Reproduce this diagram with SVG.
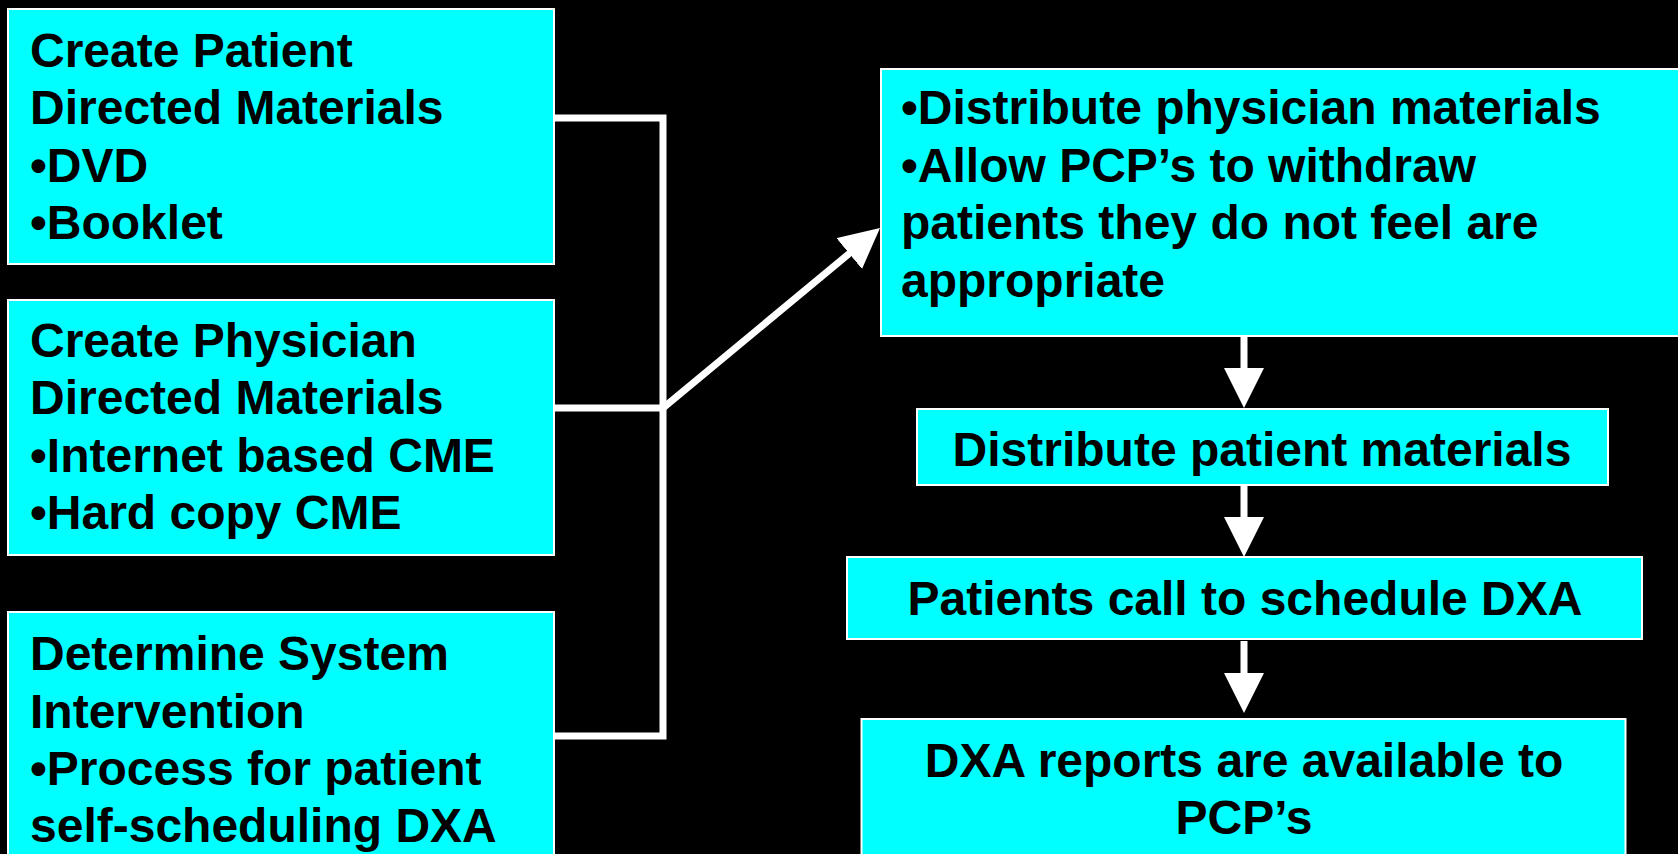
<svg xmlns="http://www.w3.org/2000/svg" width="1678" height="854" viewBox="0 0 1678 854">
  <style>
    .box { fill: #00ffff; stroke: #ffffff; stroke-width: 2; }
    .t { font-family: "Liberation Sans", Arial, sans-serif; font-weight: bold; font-size: 48px; fill: #000000; }
    .c { text-anchor: middle; }
    .ln { fill: none; stroke: #ffffff; stroke-width: 7; stroke-linejoin: miter; }
  </style>
  <defs>
    <marker id="head" markerUnits="userSpaceOnUse" markerWidth="40" markerHeight="40" viewBox="0 0 40 40" refX="10" refY="20" orient="auto">
      <path d="M0,0 L40,20 L0,40 Z" fill="#ffffff"/>
    </marker>
  </defs>
  <rect x="0" y="0" width="1678" height="854" fill="#000000"/>

  <g id="connectors">
    <path class="ln" d="M554,118 H663 V736 H554"/>
    <path class="ln" d="M554,408 H663"/>
    <line class="ln" x1="663" y1="408" x2="856.9" y2="247.2" marker-end="url(#head)"/>
    <line class="ln" x1="1244" y1="336" x2="1244" y2="378" marker-end="url(#head)"/>
    <line class="ln" x1="1244" y1="485" x2="1244" y2="527" marker-end="url(#head)"/>
    <line class="ln" x1="1244" y1="641" x2="1244" y2="683" marker-end="url(#head)"/>
  </g>

  <g id="patient-materials">
    <rect class="box" x="8" y="9" width="546" height="255"/>
    <text class="t" x="30" y="66.5">Create Patient</text>
    <text class="t" x="30" y="124">Directed Materials</text>
    <text class="t" x="30" y="181.5">•DVD</text>
    <text class="t" x="30" y="239">•Booklet</text>
  </g>

  <g id="physician-materials">
    <rect class="box" x="8" y="300" width="546" height="255"/>
    <text class="t" x="30" y="356.5">Create Physician</text>
    <text class="t" x="30" y="414">Directed Materials</text>
    <text class="t" x="30" y="471.5">•Internet based CME</text>
    <text class="t" x="30" y="529">•Hard copy CME</text>
  </g>

  <g id="system-intervention">
    <rect class="box" x="8" y="612" width="546" height="262"/>
    <text class="t" x="30" y="670">Determine System</text>
    <text class="t" x="30" y="727.5">Intervention</text>
    <text class="t" x="30" y="785">•Process for patient</text>
    <text class="t" x="30" y="842">self-scheduling DXA</text>
  </g>

  <g id="distribute-physician">
    <rect class="box" x="881" y="69" width="820" height="267"/>
    <text class="t" x="901" y="124">•Distribute physician materials</text>
    <text class="t" x="901" y="181.5">•Allow PCP’s to withdraw</text>
    <text class="t" x="901" y="239">patients they do not feel are</text>
    <text class="t" x="901" y="296.5">appropriate</text>
  </g>

  <g id="distribute-patient">
    <rect class="box" x="917" y="409" width="691" height="76"/>
    <text class="t c" x="1262" y="466">Distribute patient materials</text>
  </g>

  <g id="patients-call">
    <rect class="box" x="847" y="557" width="795" height="82"/>
    <text class="t c" x="1245" y="615">Patients call to schedule DXA</text>
  </g>

  <g id="dxa-reports">
    <rect class="box" x="861.5" y="719" width="764" height="160"/>
    <text class="t c" x="1244" y="777">DXA reports are available to</text>
    <text class="t c" x="1244" y="834">PCP’s</text>
  </g>
</svg>
